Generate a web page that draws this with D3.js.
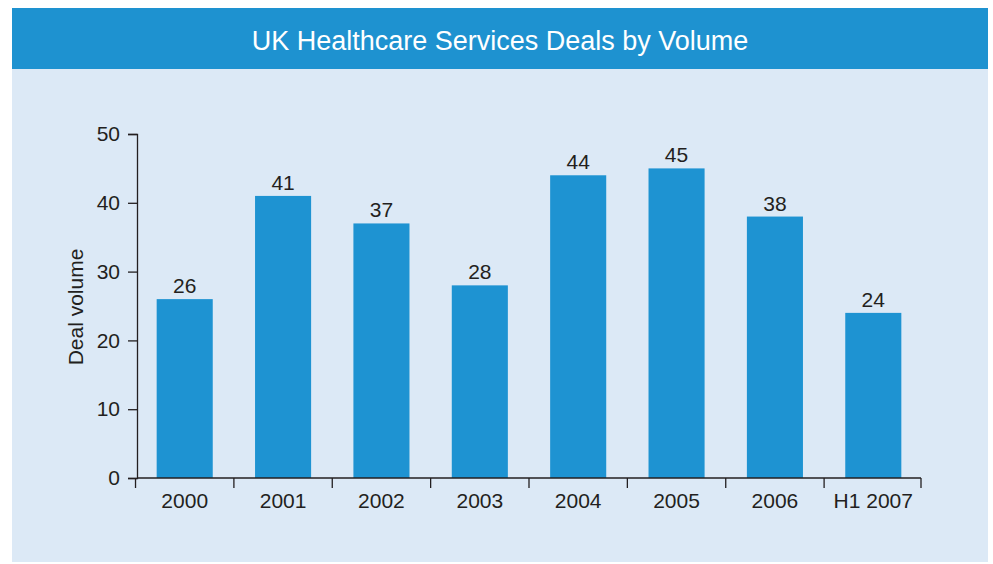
<!DOCTYPE html>
<html>
<head>
<meta charset="utf-8">
<script src="https://cdn.jsdelivr.net/npm/d3@7"></script>
<style>
  body { margin: 0; background: #fff; }
  text { font-family: "Liberation Sans", Arial, sans-serif; fill: #231f20; }
</style>
</head>
<body>
<div id="chart"></div>
<script>
// data
const categories = ['2000', '2001', '2002', '2003', '2004', '2005', '2006', 'H1 2007'];
const dealVolume = [26, 41, 37, 28, 44, 45, 38, 24];
const yTicks = [0, 10, 20, 30, 40, 50];

const width = 993, height = 564;

const svg = d3.select('#chart')
  .append('svg')
  .attr('width', width)
  .attr('height', height);

// panel + title bar
svg.append('rect')
  .attr('x', 12).attr('y', 69)
  .attr('width', 976).attr('height', 493)
  .attr('fill', '#dce9f6');

svg.append('rect')
  .attr('x', 12).attr('y', 8)
  .attr('width', 976).attr('height', 61)
  .attr('fill', '#1e92d0');

svg.append('text')
  .attr('x', 500).attr('y', 50)
  .attr('text-anchor', 'middle')
  .attr('font-size', 27)
  .style('fill', '#fff')
  .text('UK Healthcare Services Deals by Volume');

// scales
const x = d3.scaleBand()
  .domain(categories)
  .range([137, 921])
  .padding(0.43)
  .paddingOuter(0.2);

const y = d3.scaleLinear()
  .domain([0, 50])
  .range([478, 134]);

// bars
svg.append('g')
  .selectAll('rect')
  .data(dealVolume)
  .enter().append('rect')
    .attr('x', (d, i) => x(categories[i]))
    .attr('y', d => y(d))
    .attr('width', x.bandwidth())
    .attr('height', d => y(0) - y(d))
    .attr('fill', '#1e93d2');

// value labels
svg.append('g')
  .selectAll('text')
  .data(dealVolume)
  .enter().append('text')
    .attr('x', (d, i) => x(categories[i]) + x.bandwidth() / 2)
    .attr('y', d => y(d) - 6)
    .attr('text-anchor', 'middle')
    .attr('font-size', 21)
    .text(d => d);

// y axis
const yAxis = svg.append('g')
  .attr('transform', 'translate(137,0)')
  .call(d3.axisLeft(y).tickValues(yTicks).tickSize(9).tickPadding(8));

// x axis - ticks at band boundaries, so draw them by hand from the scale
const xAxis = svg.append('g')
  .attr('transform', 'translate(0,478)');

xAxis.append('line')
  .attr('x1', x.range()[0]).attr('x2', x.range()[1])
  .attr('y1', 0).attr('y2', 0);

const step = x.step();
const bounds = categories.map(c => x(c) - step * x.paddingInner() / 2);
bounds.push(x.range()[1]);

xAxis.selectAll('line.tick')
  .data(bounds)
  .enter().append('line')
    .attr('class', 'tick')
    .attr('x1', d => d).attr('x2', d => d)
    .attr('y1', 0).attr('y2', 10);

xAxis.selectAll('text')
  .data(categories)
  .enter().append('text')
    .attr('x', d => x(d) + x.bandwidth() / 2)
    .attr('y', 30)
    .attr('text-anchor', 'middle')
    .attr('font-size', 21)
    .text(d => d);

xAxis.selectAll('line').attr('stroke', '#231f20').attr('stroke-width', 1.3);

yAxis.select('.domain').attr('stroke', '#231f20').attr('stroke-width', 1.3);
yAxis.selectAll('.tick line').attr('stroke', '#231f20').attr('stroke-width', 1.3);
yAxis.selectAll('.tick text')
  .attr('font-size', 21)
  .attr('font-family', '"Liberation Sans", Arial, sans-serif')
  .style('fill', '#231f20');

// y title
svg.append('text')
  .attr('transform', 'translate(83,307) rotate(-90)')
  .attr('text-anchor', 'middle')
  .attr('font-size', 21)
  .text('Deal volume');
</script>
</body>
</html>
